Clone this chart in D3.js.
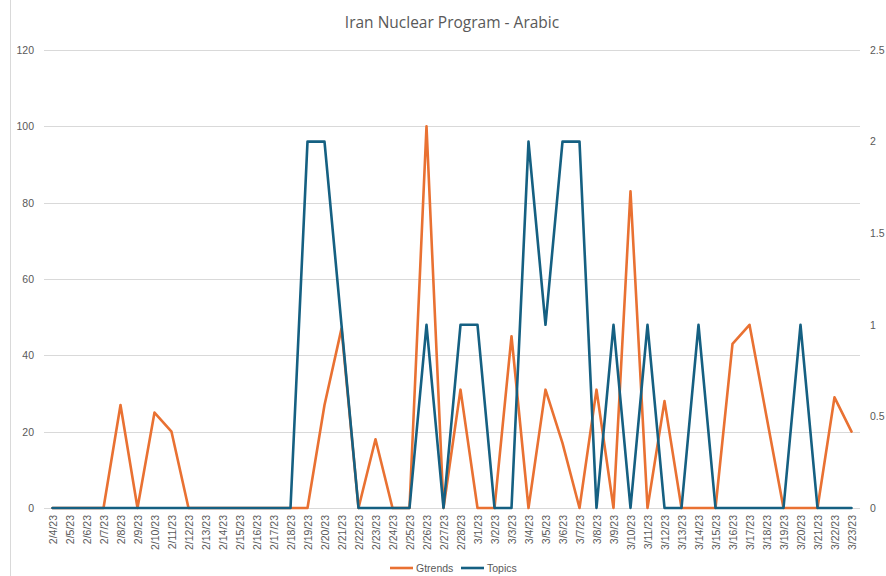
<!DOCTYPE html>
<html>
<head>
<meta charset="utf-8">
<script src="https://cdn.jsdelivr.net/npm/d3@7"></script>
<style>
  html, body { margin: 0; padding: 0; background: #fff; }
  svg { display: block; font-family: "Open Sans", "Liberation Sans", sans-serif; }
</style>
</head>
<body>
<svg id="chart" width="886" height="576"></svg>
<script>
// Daily dates, 2/4/23 through 3/23/23
const dates = [
  "2/4/23","2/5/23","2/6/23","2/7/23","2/8/23","2/9/23","2/10/23","2/11/23","2/12/23",
  "2/13/23","2/14/23","2/15/23","2/16/23","2/17/23","2/18/23","2/19/23","2/20/23",
  "2/21/23","2/22/23","2/23/23","2/24/23","2/25/23","2/26/23","2/27/23","2/28/23",
  "3/1/23","3/2/23","3/3/23","3/4/23","3/5/23","3/6/23","3/7/23","3/8/23","3/9/23",
  "3/10/23","3/11/23","3/12/23","3/13/23","3/14/23","3/15/23","3/16/23","3/17/23",
  "3/18/23","3/19/23","3/20/23","3/21/23","3/22/23","3/23/23"
];

// Google Trends interest (left axis)
const gtrends = [
  0,0,0,0,27,0,25,20,0,
  0,0,0,0,0,0,0,27,
  47,0,18,0,0,100,0,31,
  0,0,45,0,31,17,0,31,0,
  83,0,28,0,0,0,43,48,
  24,0,0,0,29,20
];

// Topic counts (right axis)
const topics = [
  0,0,0,0,0,0,0,0,0,
  0,0,0,0,0,0,2,2,
  1,0,0,0,0,1,0,1,
  1,0,0,2,1,2,2,0,1,
  0,1,0,0,1,0,0,0,
  0,0,1,0,0,0
];

const leftTicks = [0, 20, 40, 60, 80, 100, 120];
const rightTicks = [0, 0.5, 1, 1.5, 2, 2.5];

const svg = d3.select("#chart");
const W = 886, H = 576;
const m = { left: 44, right: 26, top: 50, bottom: 68 };
const plotRight = W - m.right;
const plotBottom = H - m.bottom;

const x = d3.scalePoint().domain(dates).range([m.left, plotRight]).padding(0.5);
const yL = d3.scaleLinear().domain([0, 120]).range([plotBottom, m.top]);
const yR = d3.scaleLinear().domain([0, 2.5]).range([plotBottom, m.top]);

const textColor = "#595959";

// Chart area edge
svg.append("line")
  .attr("x1", 10.5).attr("x2", 10.5).attr("y1", 0).attr("y2", H)
  .attr("stroke", "#d9d9d9").attr("stroke-width", 1);

// Title
svg.append("text")
  .attr("x", 452).attr("y", 28)
  .attr("text-anchor", "middle")
  .attr("font-size", 15.5)
  .attr("fill", textColor)
  .text("Iran Nuclear Program - Arabic");

// Horizontal gridlines
svg.append("g").selectAll("line")
  .data(leftTicks)
  .join("line")
  .attr("x1", m.left).attr("x2", plotRight)
  .attr("y1", d => Math.round(yL(d)) + 0.5).attr("y2", d => Math.round(yL(d)) + 0.5)
  .attr("stroke", "#d9d9d9").attr("stroke-width", 1);

// Left axis
const leftAxis = svg.append("g")
  .attr("transform", `translate(${m.left - 10},0)`)
  .call(d3.axisLeft(yL).tickValues(leftTicks).tickSize(0).tickPadding(0));
leftAxis.select(".domain").remove();
leftAxis.selectAll("text").attr("font-size", 10.5).attr("fill", textColor)
  .attr("font-family", "'Liberation Sans', Arial, sans-serif");

// Right axis
const rightAxis = svg.append("g")
  .attr("transform", `translate(${plotRight + 10},0)`)
  .call(d3.axisRight(yR).tickValues(rightTicks).tickSize(0).tickPadding(0)
    .tickFormat(d => String(d)));
rightAxis.select(".domain").remove();
rightAxis.selectAll("text").attr("font-size", 10.5).attr("fill", textColor)
  .attr("font-family", "'Liberation Sans', Arial, sans-serif");

// Category axis with rotated date labels
const bottomAxis = svg.append("g")
  .attr("transform", `translate(0,${plotBottom})`)
  .call(d3.axisBottom(x).tickSize(0).tickPadding(0));
bottomAxis.select(".domain").remove();
bottomAxis.selectAll("text")
  .attr("font-size", 10.5).attr("fill", textColor)
  .attr("font-family", "'Liberation Sans', Arial, sans-serif")
  .attr("text-anchor", "end")
  .attr("dy", "0.35em")
  .attr("transform", "translate(0,7) rotate(-90)");

// Series lines
const lineL = d3.line().x((d, i) => x(dates[i])).y(d => yL(d));
const lineR = d3.line().x((d, i) => x(dates[i])).y(d => yR(d));

const orange = "#E97132";
const blue = "#156082";

svg.append("path")
  .datum(gtrends)
  .attr("d", lineL)
  .attr("fill", "none").attr("stroke", orange)
  .attr("stroke-width", 2.6).attr("stroke-linejoin", "round").attr("stroke-linecap", "round");

svg.append("path")
  .datum(topics)
  .attr("d", lineR)
  .attr("fill", "none").attr("stroke", blue)
  .attr("stroke-width", 2.6).attr("stroke-linejoin", "round").attr("stroke-linecap", "round");

// Legend
const legend = [
  { name: "Gtrends", color: orange, x: 390 },
  { name: "Topics", color: blue, x: 461 }
];
const lg = svg.append("g").selectAll("g").data(legend).join("g")
  .attr("transform", d => `translate(${d.x},568)`);
lg.append("line").attr("x1", 0).attr("x2", 23).attr("y1", 0).attr("y2", 0)
  .attr("stroke", d => d.color).attr("stroke-width", 2.6);
lg.append("text").attr("x", 26).attr("y", 0).attr("dy", "0.35em")
  .attr("font-size", 10.5).attr("fill", textColor)
  .attr("font-family", "'Liberation Sans', Arial, sans-serif")
  .text(d => d.name);
</script>
</body>
</html>
